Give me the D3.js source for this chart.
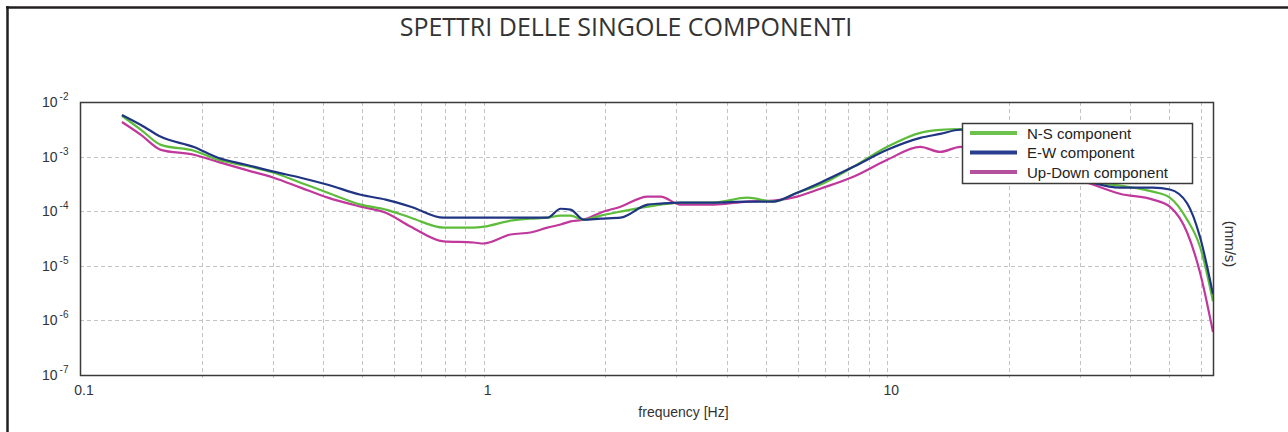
<!DOCTYPE html>
<html>
<head>
<meta charset="utf-8">
<script src="https://cdn.jsdelivr.net/npm/d3@7"></script>
<style>
  html, body { margin: 0; padding: 0; background: #fff; }
  svg { display: block; }
</style>
</head>
<body>
<svg id="chart" width="1288" height="432"></svg>
<script>
// Frequency samples (Hz)
const frequency = [0.127, 0.1416, 0.1586, 0.1915, 0.2197, 0.2576, 0.302, 0.352, 0.411, 0.496,
  0.572, 0.66, 0.796, 0.944, 1.0, 1.166, 1.307, 1.439, 1.551, 1.642,
  1.768, 1.948, 2.183, 2.547, 2.742, 3.073, 3.71, 4.5, 5.22, 5.98,
  6.82, 8.24, 10.0, 12.07, 13.52, 15.17, 17.99, 23.9, 32.4, 37.7,
  45.5, 50.1, 55.3, 59.5, 64.1];

// Spectral amplitude of each component (mm/s)
const nsComponent = [5.6e-3, 3.1e-3, 1.64e-3, 1.28e-3, 8.75e-4, 6.8e-4, 5.06e-4, 3.33e-4, 2.18e-4, 1.32e-4,
  1.07e-4, 7.6e-5, 5.0e-5, 5.0e-5, 5.2e-5, 6.7e-5, 7.3e-5, 7.6e-5, 8.3e-5, 8.3e-5,
  7.0e-5, 8.3e-5, 9.8e-5, 1.21e-4, 1.32e-4, 1.44e-4, 1.44e-4, 1.77e-4, 1.5e-4, 2.18e-4,
  3.05e-4, 6.5e-4, 1.51e-3, 2.72e-3, 3.08e-3, 3.2e-3, 2.2e-3, 8.75e-4, 3.47e-4, 2.93e-4,
  2.28e-4, 1.77e-4, 7.0e-5, 2.26e-5, 2.24e-6];

const ewComponent = [5.8e-3, 3.8e-3, 2.3e-3, 1.5e-3, 9.5e-4, 7.1e-4, 5.3e-4, 4.1e-4, 3.05e-4, 2.0e-4,
  1.63e-4, 1.21e-4, 7.6e-5, 7.6e-5, 7.6e-5, 7.6e-5, 7.6e-5, 7.6e-5, 1.11e-4, 1.07e-4,
  7.0e-5, 7.3e-5, 7.6e-5, 1.32e-4, 1.38e-4, 1.44e-4, 1.44e-4, 1.5e-4, 1.5e-4, 2.18e-4,
  3.33e-4, 6.5e-4, 1.33e-3, 2.2e-3, 2.6e-3, 3.1e-3, 2.5e-3, 8.8e-4, 3.3e-4, 2.7e-4,
  2.7e-4, 2.5e-4, 1.4e-4, 3.4e-5, 3.0e-6];

const udComponent = [4.3e-3, 2.5e-3, 1.33e-3, 1.08e-3, 8.0e-4, 5.7e-4, 4.1e-4, 2.7e-4, 1.77e-4, 1.21e-4,
  9.4e-5, 5.2e-5, 2.8e-5, 2.67e-5, 2.56e-5, 3.74e-5, 4.07e-5, 5.0e-5, 5.7e-5, 6.5e-5,
  7.0e-5, 9.4e-5, 1.21e-4, 1.85e-4, 1.85e-4, 1.32e-4, 1.32e-4, 1.5e-4, 1.56e-4, 1.85e-4,
  2.58e-4, 4.27e-4, 8.75e-4, 1.51e-3, 1.22e-3, 1.51e-3, 1.33e-3, 7.1e-4, 3.05e-4, 2.09e-4,
  1.63e-4, 1.21e-4, 4.07e-5, 7.6e-6, 6.1e-7];

const seriesNames = ["N-S component", "E-W component", "Up-Down component"];
const seriesColors = ["#5dbd3b", "#1f3483", "#c0389b"];
const legendColors = ["#6cc24c", "#283d8e", "#b5509c"];

// Axis ticks
const xTickValues = [0.1, 1, 10];
const xTickLabels = ["0.1", "1", "10"];
const yTickValues = [1e-2, 1e-3, 1e-4, 1e-5, 1e-6, 1e-7];
const yTickExponents = ["-2", "-3", "-4", "-5", "-6", "-7"];

const titleText = "SPETTRI DELLE SINGOLE COMPONENTI";
const xAxisTitle = "frequency [Hz]";
const yAxisTitle = "(mm/s)";

const svg = d3.select("#chart");
const plot = { left: 80, right: 1213, top: 102, bottom: 375 };

const x = d3.scaleLog().domain([0.1, 64.1]).range([plot.left, plot.right]);
const y = d3.scaleLog().domain([1e-7, 1e-2]).range([plot.bottom, plot.top]);

// Outer frame
svg.append("line").attr("x1", 6).attr("x2", 1288).attr("y1", 7.5).attr("y2", 7.5)
  .attr("stroke", "#231f20").attr("stroke-width", 2.5);
svg.append("line").attr("x1", 7.5).attr("x2", 7.5).attr("y1", 6).attr("y2", 432)
  .attr("stroke", "#231f20").attr("stroke-width", 2.5);

// Title
svg.append("text")
  .attr("x", 626).attr("y", 36)
  .attr("text-anchor", "middle")
  .attr("font-family", "'Open Sans', sans-serif")
  .attr("font-size", 25)
  .attr("fill", "#333")
  .text(titleText);

// Grid: every log minor step on x, decades on y
const xGrid = [];
for (let d = 0.1; d < 100; d *= 10) {
  for (let k = 1; k <= 9; k++) {
    const v = +(d * k).toPrecision(3);
    if (v > 0.1 && v < 64) xGrid.push(v);
  }
}
const grid = svg.append("g").attr("stroke", "#c4c4c4").attr("stroke-width", 1)
  .attr("stroke-dasharray", "4,3");
grid.selectAll("line.vx").data(xGrid).join("line").attr("class", "vx")
  .attr("x1", d => Math.round(x(d)) + 0.5).attr("x2", d => Math.round(x(d)) + 0.5)
  .attr("y1", plot.top).attr("y2", plot.bottom + 3);
grid.selectAll("line.hy").data(yTickValues.slice(1, -1)).join("line").attr("class", "hy")
  .attr("x1", plot.left).attr("x2", plot.right)
  .attr("y1", d => Math.round(y(d)) + 0.5).attr("y2", d => Math.round(y(d)) + 0.5);

// Curves
svg.append("clipPath").attr("id", "plotClip").append("rect")
  .attr("x", plot.left).attr("y", plot.top)
  .attr("width", plot.right - plot.left).attr("height", plot.bottom - plot.top);

const line = d3.line()
  .x(d => x(d[0]))
  .y(d => y(d[1]))
  .curve(d3.curveMonotoneX);

const allSeries = [nsComponent, ewComponent, udComponent];
const curves = svg.append("g").attr("clip-path", "url(#plotClip)");
[2, 0, 1].forEach(i => {
  curves.append("path")
    .datum(frequency.map((f, j) => [f, allSeries[i][j]]))
    .attr("fill", "none")
    .attr("stroke", seriesColors[i])
    .attr("stroke-width", 2.2)
    .attr("stroke-linejoin", "round")
    .attr("d", line);
});

// Plot frame
svg.append("rect")
  .attr("x", plot.left + 0.5).attr("y", plot.top + 0.5)
  .attr("width", plot.right - plot.left).attr("height", plot.bottom - plot.top)
  .attr("fill", "none").attr("stroke", "#3a3a3a").attr("stroke-width", 1.5);

// X tick labels
svg.append("g").selectAll("text").data(xTickValues).join("text")
  .attr("x", d => x(d) + 4).attr("y", 395)
  .attr("text-anchor", "middle")
  .attr("font-family", "'Liberation Sans', Arial, sans-serif")
  .attr("font-size", 14).attr("fill", "#333")
  .text((d, i) => xTickLabels[i]);

// Y tick labels as powers of ten
const yLabels = svg.append("g")
  .attr("font-family", "'Liberation Sans', Arial, sans-serif")
  .attr("fill", "#333");
yTickValues.forEach((v, i) => {
  const t = yLabels.append("text").attr("x", 42).attr("y", y(v) + 5).attr("font-size", 14);
  t.append("tspan").text("10");
  t.append("tspan").attr("dx", 2).attr("dy", -7).attr("font-size", 10).text(yTickExponents[i]);
});

// Axis titles
svg.append("text")
  .attr("x", (plot.left + plot.right) / 2 + 37).attr("y", 417)
  .attr("text-anchor", "middle")
  .attr("font-family", "'Liberation Sans', Arial, sans-serif")
  .attr("font-size", 14).attr("fill", "#333")
  .text(xAxisTitle);

svg.append("text")
  .attr("transform", "translate(1225,244) rotate(90)")
  .attr("text-anchor", "middle")
  .attr("font-family", "'Liberation Sans', Arial, sans-serif")
  .attr("font-size", 15).attr("fill", "#333")
  .text(yAxisTitle);

// Legend
const legend = svg.append("g");
legend.append("rect")
  .attr("x", 962.5).attr("y", 123.5).attr("width", 230).attr("height", 60)
  .attr("fill", "#fff").attr("stroke", "#3a3a3a").attr("stroke-width", 1.5);
seriesNames.forEach((name, i) => {
  const ry = 133 + i * 19.5;
  legend.append("line")
    .attr("x1", 970).attr("x2", 1017).attr("y1", ry).attr("y2", ry)
    .attr("stroke", legendColors[i]).attr("stroke-width", 4);
  legend.append("text")
    .attr("x", 1027).attr("y", ry)
    .attr("dominant-baseline", "central")
    .attr("font-family", "'Liberation Sans', Arial, sans-serif")
    .attr("font-size", 15).attr("fill", "#222")
    .text(name);
});
</script>
</body>
</html>
